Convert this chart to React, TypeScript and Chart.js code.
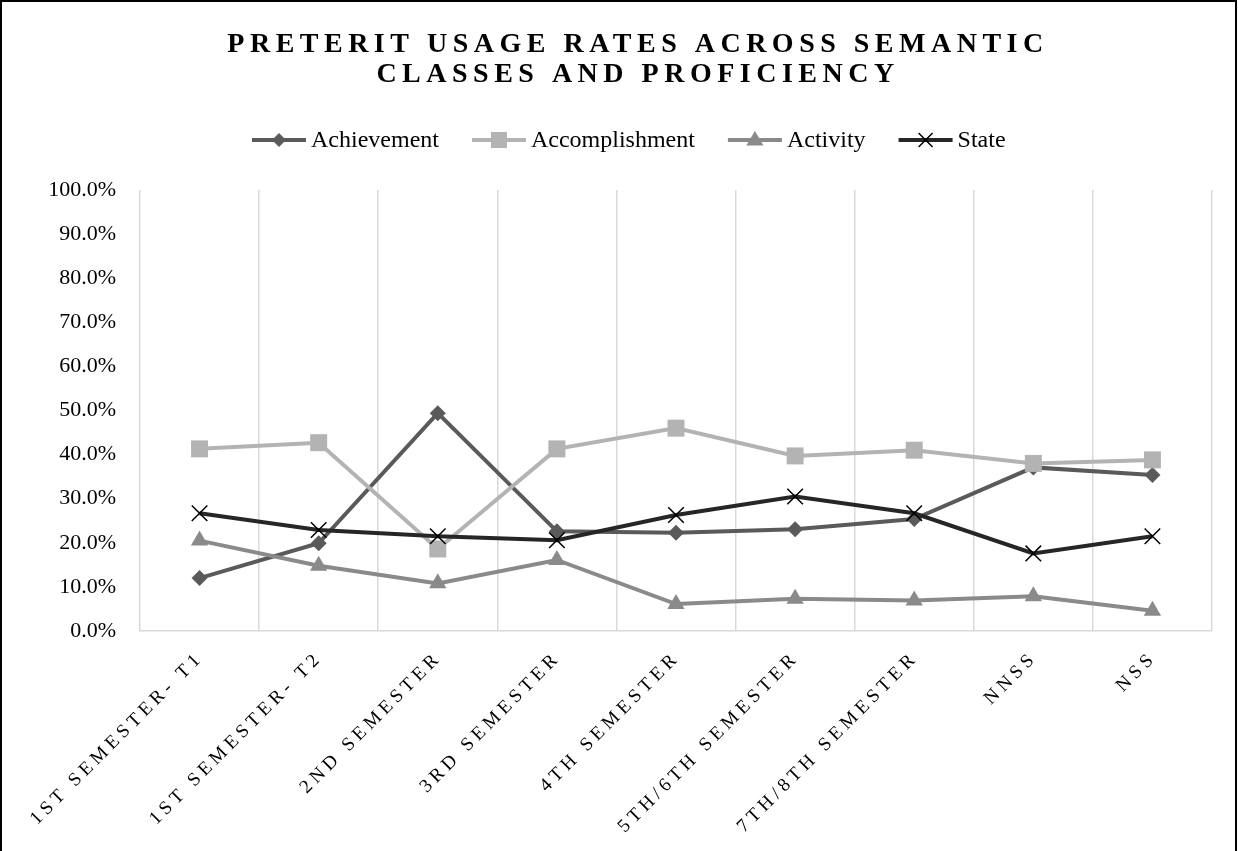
import React, { useEffect, useRef } from 'react';
import { Chart, registerables } from 'chart.js';

Chart.register(...registerables);

const titleLines = ['PRETERIT USAGE RATES ACROSS SEMANTIC', 'CLASSES AND PROFICIENCY'];
const categories = [
  '1ST SEMESTER- T1',
  '1ST SEMESTER- T2',
  '2ND SEMESTER',
  '3RD SEMESTER',
  '4TH SEMESTER',
  '5TH/6TH SEMESTER',
  '7TH/8TH SEMESTER',
  'NNSS',
  'NSS',
];
const seriesNames = ['Achievement', 'Accomplishment', 'Activity', 'State'];
const achievement = [12.0, 19.9, 49.4, 22.6, 22.3, 23.1, 25.4, 37.1, 35.4];
const accomplishment = [41.3, 42.7, 18.6, 41.3, 46.0, 39.7, 41.0, 38.0, 38.8];
const activity = [20.5, 14.8, 10.8, 16.1, 6.1, 7.3, 6.9, 7.9, 4.6];
const state = [26.7, 22.9, 21.5, 20.6, 26.3, 30.5, 26.7, 17.6, 21.5];
const yMin = 0;
const yMax = 100;
const yStep = 10;

const colors = ['#5a5a5a', '#b3b3b3', '#8a8a8a', '#262626'];
const pointStyles = ['rectRot', 'rect', 'triangle', 'crossRot'];
const FONT = '"Liberation Serif", "Times New Roman", serif';

function drawMarker(ctx: CanvasRenderingContext2D, style: string, x: number, y: number, color: string) {
  ctx.save();
  ctx.fillStyle = color;
  ctx.strokeStyle = color;
  ctx.beginPath();
  if (style === 'rectRot') {
    const r = 7;
    ctx.moveTo(x, y - r);
    ctx.lineTo(x + r, y);
    ctx.lineTo(x, y + r);
    ctx.lineTo(x - r, y);
    ctx.closePath();
    ctx.fill();
  } else if (style === 'rect') {
    const s = 8;
    ctx.rect(x - s, y - s, 2 * s, 2 * s);
    ctx.fill();
  } else if (style === 'triangle') {
    const r = 9;
    ctx.moveTo(x, y - r);
    ctx.lineTo(x + r * 0.95, y + r * 0.6);
    ctx.lineTo(x - r * 0.95, y + r * 0.6);
    ctx.closePath();
    ctx.fill();
  } else {
    const r = 7;
    ctx.lineWidth = 1.5;
    ctx.strokeStyle = '#000';
    ctx.moveTo(x - r, y - r);
    ctx.lineTo(x + r, y + r);
    ctx.moveTo(x + r, y - r);
    ctx.lineTo(x - r, y + r);
    ctx.stroke();
  }
  ctx.restore();
}

const decorPlugin = {
  id: 'decor',
  beforeDraw(chart: any) {
    const ctx = chart.ctx as CanvasRenderingContext2D;
    ctx.save();
    ctx.fillStyle = '#ffffff';
    ctx.fillRect(0, 0, chart.width, chart.height);
    ctx.restore();
  },
  afterDraw(chart: any) {
    const ctx = chart.ctx as CanvasRenderingContext2D;
    // border
    ctx.save();
    ctx.strokeStyle = '#000';
    ctx.lineWidth = 2;
    ctx.beginPath();
    ctx.moveTo(1, chart.height + 5);
    ctx.lineTo(1, 1);
    ctx.lineTo(chart.width - 2, 1);
    ctx.lineTo(chart.width - 2, chart.height + 5);
    ctx.stroke();
    ctx.restore();

    // title
    ctx.save();
    ctx.fillStyle = '#000';
    ctx.font = `bold 28px ${FONT}`;
    (ctx as any).letterSpacing = '5.5px';
    ctx.textAlign = 'center';
    ctx.textBaseline = 'alphabetic';
    ctx.fillText(titleLines[0], 638, 52);
    ctx.fillText(titleLines[1], 638, 82);
    ctx.restore();

    // legend
    ctx.save();
    ctx.font = `24px ${FONT}`;
    ctx.textBaseline = 'middle';
    ctx.textAlign = 'left';
    const lineLen = 54;
    const gapText = 5;
    const gapItem = 33;
    const widths = seriesNames.map((n) => ctx.measureText(n).width);
    let x = 252;
    const ly = 140;
    seriesNames.forEach((name, i) => {
      ctx.save();
      ctx.strokeStyle = colors[i];
      ctx.lineWidth = 4;
      ctx.beginPath();
      ctx.moveTo(x, ly);
      ctx.lineTo(x + lineLen, ly);
      ctx.stroke();
      ctx.restore();
      drawMarker(ctx, pointStyles[i], x + lineLen / 2, ly, colors[i]);
      ctx.fillStyle = '#000';
      ctx.fillText(name, x + lineLen + gapText, ly + 1);
      x += lineLen + gapText + widths[i] + gapItem;
    });
    ctx.restore();

    // x labels
    const xs = chart.scales.x;
    const bottom = chart.chartArea.bottom;
    ctx.save();
    ctx.fillStyle = '#000';
    ctx.font = `19px ${FONT}`;
    (ctx as any).letterSpacing = '4.4px';
    ctx.textAlign = 'right';
    ctx.textBaseline = 'middle';
    categories.forEach((c, i) => {
      const px = xs.getPixelForValue(i);
      ctx.save();
      ctx.translate(px + 1, bottom + 24);
      ctx.rotate(-Math.PI / 4);
      ctx.fillText(c, 0, 0);
      ctx.restore();
    });
    ctx.restore();
  },
};

export default function App() {
  const ref = useRef<HTMLCanvasElement | null>(null);

  useEffect(() => {
    if (!ref.current) return;
    const data = [achievement, accomplishment, activity, state];
    const radii = [8, 12, 10, 11];
    const chart = new Chart(ref.current, {
      type: 'line',
      data: {
        labels: categories,
        datasets: seriesNames.map((name, i) => ({
          label: name,
          data: data[i],
          borderColor: colors[i],
          backgroundColor: colors[i],
          borderWidth: 4,
          pointStyle: pointStyles[i] as any,
          pointRadius: radii[i],
          pointBackgroundColor: colors[i],
          pointBorderColor: i === 3 ? '#000' : colors[i],
          pointBorderWidth: i === 3 ? 1.5 : 0,
          tension: 0,
          fill: false,
          order: 4 - i,
        })),
      },
      options: {
        responsive: false,
        animation: false,
        layout: { padding: { top: 190, left: 0, right: 26, bottom: 0 } },
        plugins: {
          legend: { display: false },
          title: { display: false },
          tooltip: { enabled: false },
        },
        scales: {
          x: {
            type: 'category',
            offset: true,
            grid: { display: true, offset: true, color: '#d9d9d9', lineWidth: 1.5, drawTicks: false },
            border: { display: true, color: '#d9d9d9', width: 1.5 },
            ticks: { display: false },
            afterFit: (s: any) => {
              s.height = 220;
            },
          },
          y: {
            min: yMin,
            max: yMax,
            grid: { display: false, drawTicks: false },
            border: { display: false },
            ticks: {
              stepSize: yStep,
              padding: 24,
              color: '#000',
              font: { family: FONT, size: 22 },
              callback: (v: any) => Number(v).toFixed(1) + '%',
            },
            afterFit: (s: any) => {
              s.width = 140;
            },
          },
        },
      },
      plugins: [decorPlugin],
    });
    return () => chart.destroy();
  }, []);

  return (
    <div style={{ position: 'fixed', left: 0, top: 0, width: 1238, height: 851, background: '#fff' }}>
      <canvas ref={ref} width={1238} height={851} style={{ width: 1238, height: 851, display: 'block' }} />
    </div>
  );
}
